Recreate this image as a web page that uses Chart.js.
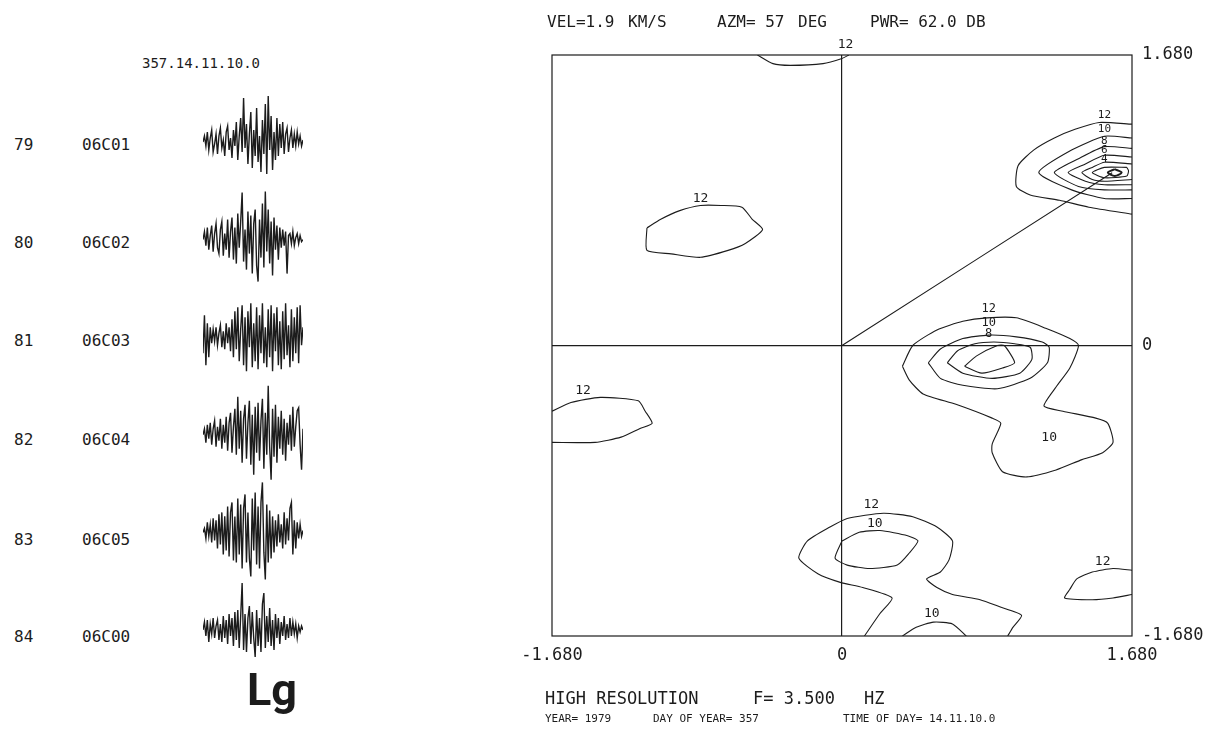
<!DOCTYPE html>
<html>
<head>
<meta charset="utf-8">
<script src="https://cdn.jsdelivr.net/npm/chart.js@4.4.1/dist/chart.umd.min.js"></script>
<style>
  body { margin: 0; background: #fff; width: 1218px; height: 734px; position: relative; overflow: hidden;
         font-family: "DejaVu Sans Mono", "Liberation Mono", monospace; color: #1c1c1c; }
  .t { position: absolute; white-space: pre; line-height: 1; }
  #seis { position: absolute; left: 203px; top: 80px; }
  #fk { position: absolute; left: 500px; top: 0; }
</style>
</head>
<body>
<canvas id="seis" width="100" height="600"></canvas>
<canvas id="fk" width="718" height="734"></canvas>

<div class="t" style="left:547px;top:14px;font-size:16px">VEL=1.9</div>
<div class="t" style="left:628px;top:14px;font-size:16px">KM/S</div>
<div class="t" style="left:717px;top:14px;font-size:16px">AZM= 57</div>
<div class="t" style="left:798px;top:14px;font-size:16px">DEG</div>
<div class="t" style="left:870px;top:14px;font-size:16px">PWR= 62.0 DB</div>

<div class="t" style="left:142px;top:56px;font-size:14px">357.14.11.10.0</div>
<div id="chanLabels"></div>
<div class="t" style="left:247px;top:667px;font-size:45px;font-family:Roboto,'Liberation Sans',sans-serif;font-weight:700">Lg</div>

<div class="t" style="left:545px;top:690px;font-size:17px">HIGH RESOLUTION</div>
<div class="t" style="left:753px;top:690px;font-size:17px">F= 3.500</div>
<div class="t" style="left:864px;top:690px;font-size:17px">HZ</div>
<div class="t" style="left:545px;top:713px;font-size:11px">YEAR= 1979</div>
<div class="t" style="left:653px;top:713px;font-size:11px">DAY OF YEAR= 357</div>
<div class="t" style="left:843px;top:713px;font-size:11px">TIME OF DAY= 14.11.10.0</div>

<script>
// ---- seismogram panel data ----
var channels = [79, 80, 81, 82, 83, 84];
var stations = ["06C01", "06C02", "06C03", "06C04", "06C05", "06C00"];
var trace79 = [0,6,-4,10,-8,4,12,-10,-2,8,-12,6,14,-6,2,-14,10,16,-8,4,-16,12,-4,20,-18,6,24,-10,44,-6,18,-22,8,30,-26,12,-14,34,-20,6,-30,22,-12,38,-32,46,-8,26,-28,10,-18,24,-14,18,-6,20,-12,8,14,-10,4,12,-6,8,-4,10,-2,6,-4,2];
var trace80 = [0,8,-6,12,-10,4,14,-12,6,16,-8,-14,10,18,-16,6,-10,20,-18,8,22,-20,12,-24,26,-8,18,47,-22,10,-30,28,-14,24,-34,16,30,-26,-42,20,-18,36,-28,48,-12,30,-24,18,-36,22,-10,14,-20,12,-8,10,-6,8,-34,4,6,-4,8,-6,2,6,-4,4,-2,0];
var trace81 = [-16,22,-28,14,-20,10,-6,8,-4,10,-8,4,12,-10,6,-12,14,-6,10,-14,18,-20,26,-12,30,-24,8,32,-28,20,-34,26,-10,34,-30,14,-24,30,-32,22,-16,34,-26,10,-30,28,-20,32,-34,24,-14,30,-28,16,-32,26,-22,34,-18,12,-30,28,-24,20,-16,30,-26,32,-8,10];
var trace82 = [0,6,-8,10,-4,12,-10,6,14,-12,8,-6,16,-14,10,-8,18,-16,12,22,-18,8,26,-20,38,-14,24,-28,16,30,-24,12,34,-30,20,-40,28,-18,32,-26,14,36,-34,22,-20,49,-12,-45,26,-22,30,-28,18,-14,24,-20,16,-26,12,-10,20,-16,28,-12,8,24,27,-10,-35,6];
var trace83 = [0,4,-6,10,-4,8,-10,14,-8,12,-16,18,-12,20,-22,16,-18,26,-24,20,30,-28,16,-30,34,-22,28,-36,24,38,-30,20,-26,-44,34,-18,40,-32,26,-36,30,50,-20,-47,28,-30,22,-26,16,-20,12,-14,18,-10,8,-16,20,-12,14,-8,24,30,-22,12,-16,10,-6,8,-4,2];
var trace84 = [0,8,-6,10,-12,6,-4,12,-8,4,10,-10,6,-12,14,-8,10,-14,16,-6,12,-16,18,-10,20,-18,14,47,-20,16,-22,12,24,-14,18,-8,-27,20,-16,12,-22,26,37,-18,14,-12,22,-16,10,-20,16,-8,12,-14,8,-6,14,-10,6,-8,12,-6,8,-4,6,-8,4,-2,4,0];
var traces = [trace79, trace80, trace81, trace82, trace83, trace84];

// ---- f-k panel data (slowness plane) ----
var axisTicks = [-1.68, 0, 1.68];
var topLeft12 = [[-1.13,0.68],[-1.05,0.73],[-0.94,0.78],[-0.82,0.81],[-0.70,0.81],[-0.58,0.80],[-0.52,0.73],[-0.46,0.67],[-0.56,0.59],[-0.66,0.55],[-0.82,0.51],[-0.99,0.53],[-1.13,0.55],[-1.13,0.68]];
var leftEdge12 = [[-1.68,-0.38],[-1.57,-0.33],[-1.40,-0.30],[-1.18,-0.32],[-1.14,-0.38],[-1.10,-0.45],[-1.17,-0.48],[-1.28,-0.53],[-1.43,-0.56],[-1.68,-0.56]];
var topEdge12 = [[-0.49,1.68],[-0.40,1.63],[-0.30,1.62],[-0.11,1.63],[0.0,1.66],[0.04,1.68]];
var peak12 = [[1.68,1.28],[1.49,1.29],[1.35,1.25],[1.23,1.20],[1.11,1.13],[1.02,1.04],[1.01,0.92],[1.09,0.87],[1.26,0.84],[1.43,0.80],[1.68,0.76]];
var peak10 = [[1.68,1.20],[1.52,1.21],[1.33,1.13],[1.14,1.00],[1.33,0.90],[1.52,0.85],[1.68,0.85]];
var peak8 = [[1.68,1.14],[1.52,1.15],[1.37,1.08],[1.23,1.00],[1.37,0.92],[1.52,0.90],[1.68,0.90]];
var peak6 = [[1.68,1.09],[1.52,1.10],[1.41,1.05],[1.31,1.00],[1.41,0.95],[1.52,0.93],[1.68,0.93]];
var peak4 = [[1.68,1.05],[1.52,1.06],[1.45,1.03],[1.39,1.00],[1.45,0.96],[1.52,0.95],[1.68,0.96]];
var peak2 = [[1.65,1.03],[1.52,1.03],[1.45,1.00],[1.52,0.97],[1.65,0.98],[1.66,1.01],[1.65,1.03]];
var peakCore = [[1.58,1.02],[1.54,1.00],[1.58,0.98],[1.62,1.00],[1.58,1.02]];
var mid6 = [[0.71,-0.12],[0.78,-0.06],[0.90,0.0],[0.94,0.0],[1.00,-0.10],[0.93,-0.13],[0.81,-0.16],[0.71,-0.12]];
var mid8 = [[0.61,-0.10],[0.67,-0.03],[0.77,0.01],[0.88,0.02],[1.00,0.01],[1.09,-0.01],[1.10,-0.08],[1.03,-0.16],[0.87,-0.19],[0.70,-0.16],[0.61,-0.10]];
var mid10 = [[0.50,-0.10],[0.57,-0.02],[0.70,0.04],[0.85,0.06],[1.01,0.05],[1.16,0.02],[1.20,-0.01],[1.19,-0.10],[1.09,-0.19],[0.90,-0.25],[0.70,-0.23],[0.57,-0.19],[0.50,-0.10]];
var mid12 = [[0.35,-0.12],[0.41,0.0],[0.55,0.09],[0.70,0.14],[0.84,0.16],[1.01,0.16],[1.18,0.10],[1.32,0.04],[1.37,0.0],[1.32,-0.13],[1.24,-0.24],[1.17,-0.35],[1.28,-0.38],[1.47,-0.42],[1.54,-0.45],[1.57,-0.56],[1.51,-0.62],[1.39,-0.66],[1.24,-0.72],[1.07,-0.76],[0.93,-0.73],[0.87,-0.62],[0.87,-0.57],[0.92,-0.45],[0.87,-0.42],[0.66,-0.34],[0.47,-0.28],[0.39,-0.20],[0.35,-0.12]];
var bot12 = [[0.13,-1.68],[0.22,-1.55],[0.29,-1.46],[0.12,-1.40],[-0.01,-1.37],[-0.14,-1.32],[-0.25,-1.23],[-0.20,-1.13],[-0.07,-1.05],[0.03,-1.00],[0.24,-0.97],[0.41,-0.99],[0.55,-1.05],[0.64,-1.13],[0.62,-1.24],[0.57,-1.31],[0.49,-1.35],[0.55,-1.40],[0.64,-1.44],[0.80,-1.47],[0.91,-1.51],[1.04,-1.56],[0.99,-1.63],[0.96,-1.68]];
var bot10 = [[0.0,-1.13],[-0.04,-1.23],[0.03,-1.27],[0.16,-1.29],[0.32,-1.27],[0.39,-1.20],[0.44,-1.13],[0.38,-1.10],[0.22,-1.07],[0.10,-1.08],[0.0,-1.13]];
var dome10 = [[0.35,-1.68],[0.43,-1.63],[0.53,-1.60],[0.64,-1.61],[0.72,-1.68]];
var right12 = [[1.68,-1.30],[1.57,-1.29],[1.45,-1.31],[1.36,-1.35],[1.32,-1.41],[1.29,-1.46],[1.45,-1.47],[1.57,-1.46],[1.68,-1.44]];
var azimuthLine = [[0, 0], [1.565, 0.999]];

var contourLines = [topLeft12, leftEdge12, topEdge12, peak12, peak10, peak8, peak6, peak4, peak2,
                    mid6, mid8, mid10, mid12, bot12, bot10, dome10, right12, azimuthLine];

var labelText = ["12", "12", "12", "12", "10", "8", "6", "4", "12", "10", "8", "10", "12", "10", "10", "12"];
var labelX = [-0.82, -1.50, 0.02, 1.52, 1.52, 1.52, 1.52, 1.52, 0.85, 0.85, 0.85, 1.20, 0.17, 0.19, 0.52, 1.51];
var labelY = [0.85, -0.26, 1.74, 1.33, 1.25, 1.18, 1.13, 1.08, 0.21, 0.13, 0.07, -0.53, -0.92, -1.03, -1.55, -1.25];
var labelSize = [13, 13, 13, 11, 11, 11, 11, 11, 12, 12, 12, 13, 13, 13, 13, 13];

var INK = "#1c1c1c";
var MONO = "'DejaVu Sans Mono', 'Liberation Mono', monospace";

// channel number and station labels at the trace baselines
var chanY = [145, 243, 341, 440, 540, 637];
var holder = document.getElementById("chanLabels");
channels.forEach(function (c, i) {
  var a = document.createElement("div");
  a.className = "t";
  a.style.cssText = "left:14px;font-size:16px;top:" + (chanY[i] - 8) + "px";
  a.textContent = c;
  holder.appendChild(a);
  var b = document.createElement("div");
  b.className = "t";
  b.style.cssText = "left:82px;font-size:16px;top:" + (chanY[i] - 8) + "px";
  b.textContent = stations[i];
  holder.appendChild(b);
});

// seismograms: baseline 79 at 62px, 84 at 550px inside a 600px canvas
var PX_PER_CHAN = 97.6;
var yMin = channels[0] - 62 / PX_PER_CHAN;
var yMax = yMin + 600 / PX_PER_CHAN;

new Chart(document.getElementById("seis"), {
  type: "scatter",
  data: {
    datasets: traces.map(function (tr, i) {
      return {
        data: tr.map(function (a, j) { return { x: j, y: channels[i] - a / PX_PER_CHAN }; }),
        showLine: true,
        borderColor: INK,
        borderWidth: 1.4,
        pointRadius: 0,
        tension: 0,
        clip: false
      };
    })
  },
  options: {
    responsive: false,
    animation: false,
    layout: { padding: 0 },
    plugins: { legend: { display: false }, tooltip: { enabled: false } },
    scales: {
      x: { type: "linear", display: false, min: 0, max: 69 },
      y: { type: "linear", display: false, reverse: true, min: yMin, max: yMax }
    }
  }
});

// frame + contour labels
var fkDecor = {
  id: "fkDecor",
  afterDatasetsDraw: function (chart) {
    var ctx = chart.ctx, a = chart.chartArea;
    var xs = chart.scales.x, ys = chart.scales.y;
    ctx.save();
    ctx.strokeStyle = INK;
    ctx.lineWidth = 1.2;
    ctx.strokeRect(a.left, a.top, a.right - a.left, a.bottom - a.top);
    ctx.fillStyle = INK;
    ctx.textAlign = "center";
    ctx.textBaseline = "middle";
    labelText.forEach(function (t, i) {
      ctx.font = labelSize[i] + "px " + MONO;
      ctx.fillText(t, xs.getPixelForValue(labelX[i]), ys.getPixelForValue(labelY[i]));
    });
    ctx.restore();
  }
};

function fmtTick(v) { return v === 0 ? "0" : v.toFixed(3); }
function zeroOnly(c) { return c.tick && c.tick.value === 0 ? INK : "rgba(0,0,0,0)"; }

var datasets = contourLines.map(function (line) {
  return {
    data: line.map(function (p) { return { x: p[0], y: p[1] }; }),
    showLine: true,
    borderColor: INK,
    borderWidth: 1.1,
    pointRadius: 0,
    tension: 0.2
  };
});
datasets.push({
  data: peakCore.map(function (p) { return { x: p[0], y: p[1] }; }),
  showLine: true, fill: true, backgroundColor: INK, borderColor: INK,
  borderWidth: 2, pointRadius: 0, tension: 0.3
});

new Chart(document.getElementById("fk"), {
  type: "scatter",
  data: { datasets: datasets },
  options: {
    responsive: false,
    animation: false,
    layout: { padding: { left: 52, top: 55, right: 0, bottom: 0 } },
    plugins: { legend: { display: false }, tooltip: { enabled: false } },
    scales: {
      x: {
        type: "linear", position: "bottom", min: -1.68, max: 1.68,
        afterBuildTicks: function (s) { s.ticks = axisTicks.map(function (v) { return { value: v }; }); },
        afterFit: function (s) { s.height = 98; },
        grid: { color: zeroOnly, lineWidth: 1.2, drawTicks: false },
        border: { display: false },
        ticks: { padding: 9, color: INK, font: { family: MONO, size: 17 }, maxRotation: 0, autoSkip: false, callback: fmtTick }
      },
      y: {
        type: "linear", position: "right", min: -1.68, max: 1.68,
        afterBuildTicks: function (s) { s.ticks = axisTicks.map(function (v) { return { value: v }; }); },
        afterFit: function (s) { s.width = 86; },
        grid: { color: zeroOnly, lineWidth: 1.2, drawTicks: false },
        border: { display: false },
        ticks: { padding: 10, color: INK, font: { family: MONO, size: 17 }, autoSkip: false, callback: fmtTick }
      }
    }
  },
  plugins: [fkDecor]
});
</script>
</body>
</html>
